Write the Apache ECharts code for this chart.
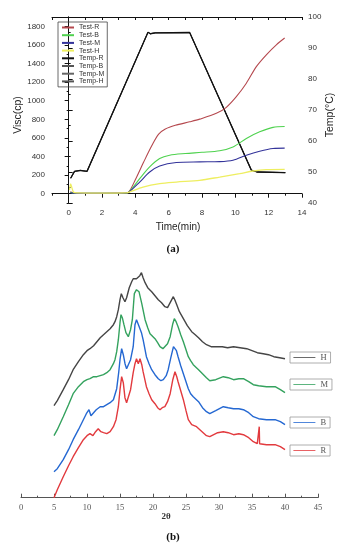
<!DOCTYPE html>
<html>
<head>
<meta charset="utf-8">
<script src="https://cdn.jsdelivr.net/npm/echarts@6/dist/echarts.min.js"></script>
<style>html,body{margin:0;padding:0;background:#fff}#c{width:346px;height:550px}</style>
</head>
<body>
<div id="c"></div>
<script>
// ---------- (a) viscosity / temperature ----------
var timeTicks = [0, 2, 4, 6, 8, 10, 12, 14];
var viscTicks = [0, 200, 400, 600, 800, 1000, 1200, 1400, 1600, 1800];

var testR = [[0.1,20],[0.3,8],[1,5],[2,5],[3,6],[3.4,10],[3.6,17],[4.0,150],[4.5,340],[5.0,520],[5.4,640],[5.8,695],[6.4,735],[7.26,773],[7.86,802],[8.86,864],[9.46,929],[10.06,1043],[10.66,1188],[11.26,1367],[11.86,1494],[12.46,1601],[12.96,1674]];
var testB = [[0.1,15],[0.3,5],[1,4],[2,4],[3,5],[3.4,8],[3.6,15],[4.26,162],[4.86,288],[5.46,378],[6.06,414],[7.0,432],[8.0,445],[9.06,462],[9.86,503],[10.66,594],[11.46,665],[12.26,713],[12.96,722]];
var testM = [[0.1,10],[0.3,5],[1,4],[2,4],[3,5],[3.4,8],[3.6,15],[4.26,125],[4.86,233],[5.46,298],[6.46,335],[7.86,342],[9.06,345],[9.86,360],[10.66,414],[11.46,457],[12.26,486],[12.96,490]];
var testH = [[0.05,40],[0.12,105],[0.2,60],[0.3,15],[0.5,8],[2,6],[3.4,8],[3.6,15],[4.46,71],[5.46,108],[6.46,125],[7.86,144],[9.06,179],[10.26,216],[11.06,244],[11.86,259],[12.96,262]];
var tempR = [[0.12,48],[0.35,50.2],[0.7,50.5],[1.1,50.2],[1.2,50.2],[4.76,95.1],[4.9,94.6],[5.2,94.9],[7.26,95.0],[10.96,50.6],[11.3,50.0],[13.0,49.8]];

// ---------- (b) XRD patterns (2θ, intensity a.u.) ----------
var xrdR = [[5.0,0],[5.5,8],[6.4,21],[7.2,32],[7.9,41],[8.7,50],[9.45,58],[10.0,62],[10.45,64],[10.9,62],[11.3,66],[11.7,69],[12.1,66],[12.5,65],[13.0,64],[13.5,66],[14.0,71],[14.4,78],[14.75,91],[15.0,108],[15.25,121],[15.5,115],[15.75,100],[16.0,95],[16.25,94],[16.6,108],[17.0,125],[17.27,134],[17.5,139],[17.77,134],[18.03,139],[18.3,133],[18.5,126],[19.0,111],[19.4,104],[19.8,98],[20.3,94],[20.7,90],[21.06,88],[21.4,90],[21.8,91],[22.2,96],[22.6,104],[23.0,118],[23.33,126],[23.6,121],[23.8,116],[24.2,107],[24.6,98],[25.0,87],[25.35,78],[25.86,73],[26.6,71],[27.1,68],[27.6,65],[28.1,62],[28.6,61],[29.2,63],[29.8,65],[30.65,66],[31.4,65],[32.2,63],[33.0,64],[33.7,63],[34.5,60],[35.2,56],[35.8,54],[36.05,54],[36.1,71],[36.15,54],[37.2,53],[38.5,53],[39.3,51],[40.0,48]];
var xrdB = [[5.0,26],[5.5,29],[6.4,38],[7.2,48],[7.9,58],[8.7,68],[9.45,78],[9.9,84],[10.3,88],[10.6,82],[10.9,84],[11.4,88],[12.0,91],[12.5,91],[13.0,93],[13.5,95],[14.0,98],[14.5,109],[14.8,125],[15.0,138],[15.25,149],[15.5,143],[15.76,134],[16.0,129],[16.26,128],[16.6,138],[17.0,151],[17.27,173],[17.5,178],[17.68,178],[17.85,172],[18.03,171],[18.25,165],[18.5,158],[19.0,141],[19.4,134],[19.8,128],[20.3,123],[20.8,119],[21.2,117],[21.56,118],[22.0,122],[22.3,128],[22.7,140],[23.1,151],[23.3,153],[23.55,147],[23.8,141],[24.2,132],[24.6,124],[25.0,116],[25.35,109],[25.7,104],[26.1,101],[26.9,96],[27.5,90],[28.1,86],[28.6,84],[29.5,87],[30.65,91],[31.4,90],[32.2,89],[33.0,89],[33.7,88],[34.5,85],[35.2,81],[36.0,79],[37.2,78],[38.5,78],[39.3,76],[40.0,73]];
var xrdM = [[5.0,62],[5.5,68],[6.4,81],[7.2,93],[7.9,104],[8.7,111],[9.45,116],[10.0,118],[10.45,119],[11.0,121],[11.5,121],[12.0,122],[12.5,123],[13.0,125],[13.5,128],[14.0,134],[14.24,138],[14.5,146],[14.75,158],[15.0,175],[15.15,183],[15.35,180],[15.6,173],[15.9,165],[16.26,161],[16.6,168],[16.87,178],[17.17,204],[17.5,208],[17.7,206],[17.88,206],[18.05,207],[18.3,194],[18.55,186],[18.8,178],[19.2,170],[19.55,164],[20.3,159],[20.7,155],[21.06,151],[21.5,149],[21.8,149],[22.2,154],[22.6,161],[23.0,174],[23.23,179],[23.5,176],[23.8,171],[24.2,163],[24.6,156],[25.0,148],[25.35,141],[25.7,137],[26.1,133],[26.9,128],[27.5,124],[28.1,120],[28.6,117],[29.5,118],[30.65,121],[31.4,120],[32.2,118],[33.0,119],[33.7,119],[34.5,116],[35.2,113],[36.0,112],[37.2,111],[38.5,111],[39.3,108],[40.0,105]];
var xrdH = [[5.0,92],[5.5,97],[6.4,108],[7.2,118],[7.9,128],[8.7,136],[9.45,143],[10.0,147],[10.45,149],[11.0,152],[11.5,156],[12.0,160],[12.5,163],[13.0,166],[13.5,169],[14.0,173],[14.24,176],[14.5,181],[14.75,188],[15.0,198],[15.2,204],[15.45,200],[15.75,196],[16.0,200],[16.4,210],[16.77,216],[17.0,219],[17.27,221],[17.5,219],[17.77,219],[18.0,222],[18.25,225],[18.5,220],[18.8,215],[19.2,210],[19.8,206],[20.3,202],[20.8,198],[21.3,195],[21.8,191],[22.2,190],[22.6,195],[23.08,201],[23.3,198],[23.6,193],[24.0,186],[24.6,179],[25.2,172],[25.86,166],[26.4,163],[26.9,160],[27.5,156],[28.1,153],[28.8,151],[29.65,151],[30.5,151],[31.3,150],[32.2,151],[33.2,150],[34.2,149],[35.0,147],[35.8,145],[36.7,144],[37.5,143],[38.3,141],[39.2,140],[40.0,139]];

var SANS = 'Liberation Sans, Arial, sans-serif';
var SERIF = 'Liberation Serif, Times New Roman, serif';

function range(a, b, s) { var r = []; for (var v = a; v <= b + 1e-9; v += s) r.push(v); return r; }
function plain(v) { return String(v); }

var chart = echarts.init(document.getElementById('c'), null, {renderer: 'canvas'});
var axisBlack = {lineStyle: {color: '#111', width: 1}};

function lineSeries(name, data, color, width, xi, yi, z, smooth) {
  return {name: name, type: 'line', data: data, xAxisIndex: xi, yAxisIndex: yi,
    showSymbol: false, symbol: 'none', smooth: smooth, z: z,
    lineStyle: {color: color, width: width}, itemStyle: {color: color}};
}
function xrdLegend(top, name) {
  return {left: 290, top: top, itemWidth: 22, itemHeight: 8, padding: [1, 4, 1, 3],
    borderColor: '#999', borderWidth: 0.8, itemGap: 0, itemStyle: {opacity: 0},
    lineStyle: {width: 0.8},
    textStyle: {fontSize: 8.5, lineHeight: 8, color: '#555', fontFamily: SERIF}, data: [name]};
}

chart.setOption({
  animation: false,
  grid: [
    {left: 52, top: 17, width: 250, height: 186},
    {left: 21, top: 267.7, width: 297, height: 230}
  ],
  xAxis: [
    {gridIndex: 0, type: 'value', position: 'bottom', min: -1, max: 14,
     axisLine: axisBlack, splitLine: {show: false},
     axisTick: {customValues: timeTicks, length: 4, lineStyle: {color: '#111'}},
     axisLabel: {customValues: timeTicks, formatter: plain, fontSize: 8, color: '#333', fontFamily: SANS, margin: 6}},
    {gridIndex: 0, type: 'value', position: 'bottom', min: -1, max: 14,
     axisLine: {show: false}, splitLine: {show: false},
     axisTick: {customValues: range(-1, 13, 2), length: 2, lineStyle: {color: '#111'}},
     axisLabel: {show: false}},
    {gridIndex: 0, type: 'value', position: 'top', min: -1, max: 14,
     axisLine: axisBlack, splitLine: {show: false},
     axisTick: {customValues: range(-1, 14, 1), inside: true, length: 3, lineStyle: {color: '#111'}},
     axisLabel: {show: false}},
    {gridIndex: 1, type: 'value', position: 'bottom', min: 0, max: 45, interval: 5,
     axisLine: {lineStyle: {color: '#555', width: 1}}, splitLine: {show: false},
     axisTick: {inside: true, length: 4, lineStyle: {color: '#555'}},
     minorTick: {show: true, splitNumber: 2, length: 2, lineStyle: {color: '#555'}},
     axisLabel: {formatter: plain, fontSize: 8.5, color: '#555', fontFamily: SERIF, margin: 6}}
  ],
  yAxis: [
    {gridIndex: 0, type: 'value', position: 'left', min: -100, max: 1900,
     axisLine: axisBlack, splitLine: {show: false},
     axisTick: {customValues: viscTicks, length: 4, lineStyle: {color: '#111'}},
     axisLabel: {customValues: viscTicks, formatter: plain, fontSize: 8, color: '#333', fontFamily: SANS, margin: 7}},
    {gridIndex: 0, type: 'value', position: 'left', min: -100, max: 1900,
     axisLine: {show: false}, splitLine: {show: false},
     axisTick: {customValues: range(-100, 1900, 200), length: 2, lineStyle: {color: '#111'}},
     axisLabel: {show: false}},
    {gridIndex: 0, type: 'value', position: 'right', min: 40, max: 100, interval: 10,
     axisLine: axisBlack, splitLine: {show: false},
     axisTick: {length: 4, lineStyle: {color: '#111'}},
     minorTick: {show: true, splitNumber: 2, length: 2, lineStyle: {color: '#111'}},
     axisLabel: {formatter: plain, fontSize: 8, color: '#333', fontFamily: SANS, margin: 6}},
    {gridIndex: 1, type: 'value', min: 0, max: 230, show: false}
  ],
  legend: [
    {orient: 'vertical', left: 58, top: 22, itemWidth: 12, itemHeight: 7, itemGap: 0.7,
     padding: [2, 3, 2, 3], borderColor: '#444', borderWidth: 0.8, itemStyle: {opacity: 0},
     textStyle: {fontSize: 7, lineHeight: 7, color: '#333', fontFamily: SANS},
     data: ['Test-R', 'Test-B', 'Test-M', 'Test-H', 'Temp-R', 'Temp-B', 'Temp-M', 'Temp-H']},
    xrdLegend(352, 'H'),
    xrdLegend(379, 'M'),
    xrdLegend(417, 'B'),
    xrdLegend(445, 'R')
  ],
  series: [
    lineSeries('Test-R', testR, '#b5484e', 1.1, 0, 0, 5, 0.3),
    lineSeries('Test-B', testB, '#4fd24f', 1.1, 0, 0, 5, 0.3),
    lineSeries('Test-M', testM, '#33339a', 1.1, 0, 0, 5, 0.3),
    lineSeries('Test-H', testH, '#eeee60', 1.3, 0, 0, 5, 0.3),
    lineSeries('Temp-B', tempR, '#555555', 0.8, 0, 2, 2, false),
    lineSeries('Temp-M', tempR, '#666666', 0.8, 0, 2, 2, false),
    lineSeries('Temp-H', tempR, '#555555', 0.8, 0, 2, 2, false),
    lineSeries('Temp-R', tempR, '#111111', 1.3, 0, 2, 3, false),
    lineSeries('R', xrdR, '#e23a3e', 1.4, 3, 3, 5, false),
    lineSeries('B', xrdB, '#2568d2', 1.4, 3, 3, 5, false),
    lineSeries('M', xrdM, '#34a25e', 1.4, 3, 3, 5, false),
    lineSeries('H', xrdH, '#454545', 1.4, 3, 3, 5, false)
  ],
  graphic: [
    {type: 'text', x: 18, y: 115, rotation: Math.PI / 2,
     style: {text: 'Visc(cp)', font: '10.5px ' + SANS, fill: '#222', textAlign: 'center', textVerticalAlign: 'middle'}},
    {type: 'text', x: 330, y: 115, rotation: Math.PI / 2,
     style: {text: 'Temp(°C)', font: '10.5px ' + SANS, fill: '#222', textAlign: 'center', textVerticalAlign: 'middle'}},
    {type: 'text', x: 178, y: 227,
     style: {text: 'Time(min)', font: '10px ' + SANS, fill: '#222', textAlign: 'center', textVerticalAlign: 'middle'}},
    {type: 'text', x: 173, y: 249,
     style: {text: '(a)', font: 'bold 11px ' + SERIF, fill: '#111', textAlign: 'center', textVerticalAlign: 'middle'}},
    {type: 'text', x: 166, y: 517,
     style: {text: '2θ', font: 'bold 9px ' + SERIF, fill: '#333', textAlign: 'center', textVerticalAlign: 'middle'}},
    {type: 'text', x: 173, y: 537,
     style: {text: '(b)', font: 'bold 11px ' + SERIF, fill: '#111', textAlign: 'center', textVerticalAlign: 'middle'}}
  ]
});
</script>
</body>
</html>
